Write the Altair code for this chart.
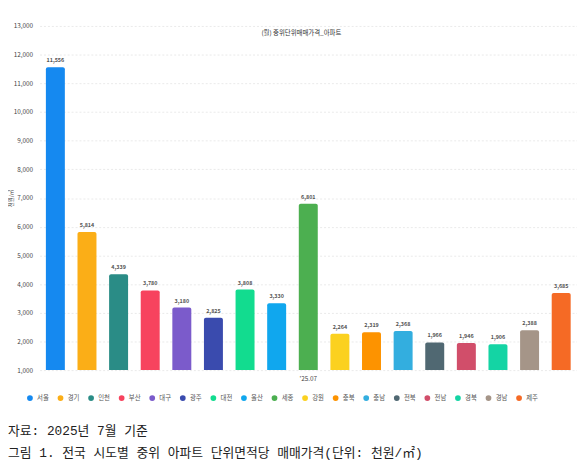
import altair as alt
import pandas as pd

regions = ["서울", "경기", "인천", "부산", "대구", "광주", "대전", "울산", "세종",
           "강원", "충북", "충남", "전북", "전남", "경북", "경남", "제주"]
values = [11556, 5814, 4339, 3780, 3180, 2825, 3808, 3330, 6801,
          2264, 2319, 2368, 1966, 1946, 1906, 2388, 3685]
colors = ["#1589F0", "#FBAE17", "#2A8C86", "#F7435E", "#7B5BCB", "#3A4BAE",
          "#12DC8F", "#10A7EE", "#4CAF50", "#FBD11F", "#FD9300", "#33AEDF",
          "#506872", "#D14E6A", "#14D4A4", "#A59588", "#F56A25"]
month = "'25.07"
chart_title = "(월) 중위단위매매가격_아파트"
y_title = "천원/㎡"
caption_source = "자료: 2025년 7월 기준"
caption_figure = "그림 1. 전국 시도별 중위 아파트 단위면적당 매매가격(단위: 천원/㎡)"

df = pd.DataFrame({"region": regions, "value": values, "month": [month] * len(regions)})

W, H = 545, 349
FONT = "Noto Sans CJK KR"
CAP_FONT = "Liberation Mono, Noto Sans CJK KR"

x = alt.X("month:N", title=None,
          scale=alt.Scale(paddingInner=0, paddingOuter=0),
          axis=alt.Axis(labelAngle=0, domain=False, ticks=False, labelFontSize=6.5,
                        labelColor="#444", labelPadding=6, labelFont=FONT))
xo = alt.XOffset("region:N", sort=regions,
                 scale=alt.Scale(paddingInner=0.4, paddingOuter=0.2))
y = alt.Y("value:Q", title=y_title,
          scale=alt.Scale(domain=[1000, 13000], zero=False, nice=False),
          axis=alt.Axis(values=list(range(1000, 13001, 1000)),
                        labelExpr="format(datum.value, ',')",
                        domain=False, ticks=False, labelFontSize=6.5,
                        labelColor="#444", labelPadding=7, labelFont=FONT,
                        titleFontSize=5.5, titleFontWeight="normal", titleColor="#444",
                        titlePadding=0, titleFont=FONT,
                        gridColor="#e4e4e4", gridDash=[2, 2], gridWidth=0.8))

color = alt.Color("region:N", sort=regions,
                  scale=alt.Scale(domain=regions, range=colors),
                  legend=alt.Legend(title=None, orient="none", direction="horizontal",
                                    columns=17, legendX=-13, legendY=374,
                                    symbolType="circle", symbolSize=34,
                                    symbolStrokeWidth=0, labelFontSize=6.5,
                                    labelColor="#555", labelOffset=4,
                                    columnPadding=8, gridAlign="all",
                                    labelFont=FONT))

base = alt.Chart(df)
bars = base.mark_bar(cornerRadiusTopLeft=2, cornerRadiusTopRight=2).encode(
    x=x, xOffset=xo, y=y, y2=alt.datum(1000), color=color)
labels = base.mark_text(baseline="bottom", dy=-4, fontSize=5.5, fontWeight="bold",
                        color="#555", font=FONT).encode(
    x=x, xOffset=xo, y=y, text=alt.Text("value:Q", format=","))

cap1 = alt.Chart(pd.DataFrame({"text": [caption_source]})).mark_text(
    align="left", baseline="middle", fontSize=13, color="#222", font=CAP_FONT).encode(
    x=alt.value(-32), y=alt.value(411), text="text:N")
cap2 = alt.Chart(pd.DataFrame({"text": [caption_figure]})).mark_text(
    align="left", baseline="middle", fontSize=13, color="#222", font=CAP_FONT).encode(
    x=alt.value(-32), y=alt.value(433), text="text:N")

chart = alt.layer(bars, labels, cap1, cap2).properties(
    width=W, height=H,
    title=alt.TitleParams(chart_title, fontSize=6.5, fontWeight="normal",
                          color="#333", offset=-14, anchor="middle", dx=-7, font=FONT),
    autosize=alt.AutoSizeParams(type="none"),
    padding={"left": 32, "top": 15, "right": 0, "bottom": 92},
).configure_view(stroke=None)

chart.save("out.html", embed_options={"renderer": "svg", "actions": False})
